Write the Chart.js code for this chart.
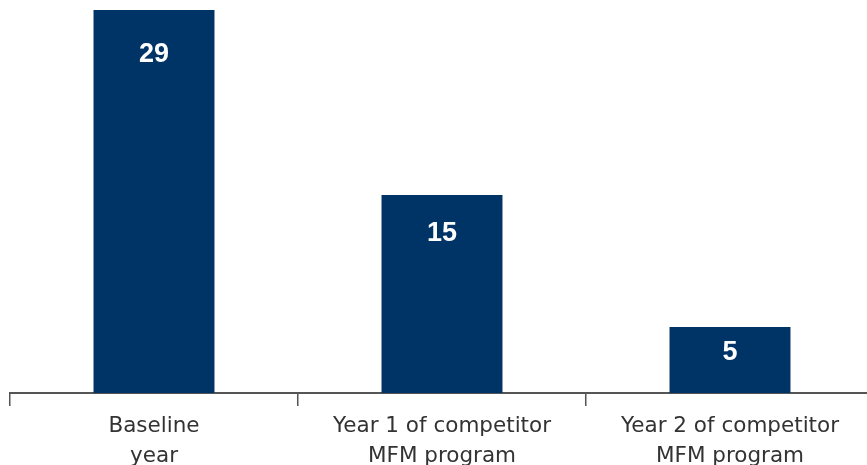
<!DOCTYPE html>
<html>
<head>
<meta charset="utf-8">
<script src="https://cdn.jsdelivr.net/npm/chart.js@4/dist/chart.umd.min.js"></script>
<style>
  html, body { margin: 0; padding: 0; background: #fff; overflow: hidden; }
  #wrap { width: 867px; height: 465px; overflow: hidden; }
  #box { width: 880px; height: 476px; }
</style>
</head>
<body>
<div id="wrap"><div id="box"><canvas id="c"></canvas></div></div>
<script>
// --- data ---
const categories = [
  ['Baseline', 'year'],
  ['Year 1 of competitor', 'MFM program'],
  ['Year 2 of competitor', 'MFM program'],
];
const values = [29, 15, 5];

const BAR_COLOR = '#003366';
const AXIS_COLOR = '#555555';
const FONT = '"Liberation Sans", Arial, sans-serif';

// white value labels near the bar tops
const valueLabels = {
  id: 'valueLabels',
  afterDatasetsDraw(chart) {
    const { ctx } = chart;
    const meta = chart.getDatasetMeta(0);
    ctx.save();
    ctx.fillStyle = '#fff';
    ctx.font = 'bold 27px ' + FONT;
    ctx.textAlign = 'center';
    ctx.textBaseline = 'alphabetic';
    meta.data.forEach((bar, i) => {
      const h = bar.base - bar.y;
      const c = bar.y + Math.min(42, 16 + h * 0.1); // centre of the digits
      ctx.fillText(String(values[i]), bar.x, c + 10);
    });
    ctx.restore();
  }
};

new Chart(document.getElementById('c'), {
  type: 'bar',
  data: {
    labels: categories,
    datasets: [{
      data: values,
      backgroundColor: BAR_COLOR,
      categoryPercentage: 1,
      barPercentage: 0.42,
    }],
  },
  options: {
    responsive: true,
    maintainAspectRatio: false,
    animation: false,
    layout: { padding: { top: 10, left: 10, right: 6, bottom: 0 } },
    plugins: { legend: { display: false }, tooltip: { enabled: false } },
    scales: {
      x: {
        grid: {
          display: true,
          offset: true,
          drawOnChartArea: false,
          drawTicks: true,
          tickLength: 13,
          color: AXIS_COLOR,
          lineWidth: 1.5,
        },
        border: { display: true, color: AXIS_COLOR, width: 2 },
        ticks: {
          color: '#333',
          font: { family: '"DejaVu Sans", sans-serif', size: 21.5, lineHeight: 30 / 21.5 },
          padding: 5,
          maxRotation: 0,
          autoSkip: false,
        },
      },
      y: {
        display: false,
        min: 0,
        max: 29,
      },
    },
  },
  plugins: [valueLabels],
});
</script>
</body>
</html>
